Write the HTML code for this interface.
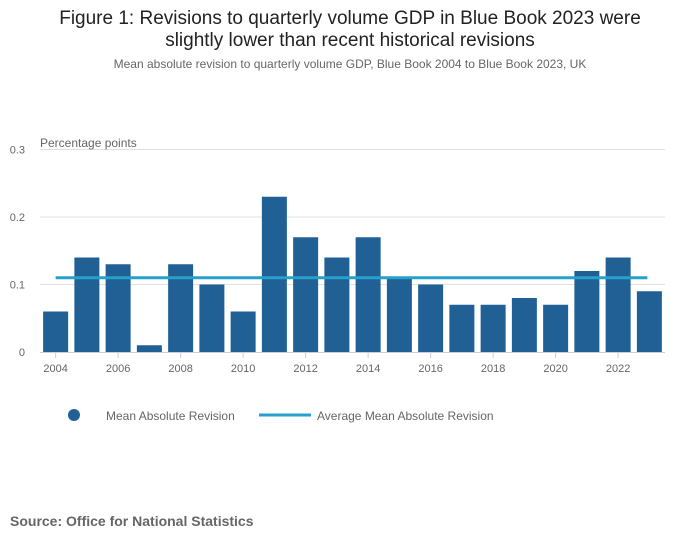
<!DOCTYPE html>
<html><head><meta charset="utf-8"><style>
body{margin:0;background:#fff;font-family:"Liberation Sans",sans-serif;}
#wrap{position:relative;width:700px;height:549px;overflow:hidden}
.t{position:absolute;left:0;width:700px;text-align:center;color:#222}
</style></head><body>
<div id="wrap">
<div class="t" style="top:8px;font-size:19px;line-height:22px">Figure 1: Revisions to quarterly volume GDP in Blue Book 2023 were<br>slightly lower than recent historical revisions</div>
<div class="t" style="top:57px;font-size:12px;color:#666">Mean absolute revision to quarterly volume GDP, Blue Book 2004 to Blue Book 2023, UK</div>
<svg id="svg" width="700" height="549" style="position:absolute;left:0;top:0"></svg>
<div style="position:absolute;left:10px;top:513px;font-size:14px;font-weight:bold;color:#666">Source: Office for National Statistics</div>
</div>
<script>
const years=[2004,2005,2006,2007,2008,2009,2010,2011,2012,2013,2014,2015,2016,2017,2018,2019,2020,2021,2022,2023];
const values=[0.06,0.14,0.13,0.01,0.13,0.10,0.06,0.23,0.17,0.14,0.17,0.11,0.10,0.07,0.07,0.08,0.07,0.12,0.14,0.09];
const average=[0.11];
const yTicks=[0,0.1,0.2,0.3];
const yTickLabels=["0","0.1","0.2","0.3"];
const xTickYears=[2004,2006,2008,2010,2012,2014,2016,2018,2020,2022];

const NS="http://www.w3.org/2000/svg";
const svg=document.getElementById('svg');
const L=40,R=665,Y0=352,Y1=149.5;
const band=(R-L)/years.length;
const x=i=>L+band*(i+0.5);
const y=v=>Y0-(Y0-Y1)*v/0.3;
function mk(tag,at,txt){const e=document.createElementNS(NS,tag);for(const k in at)e.setAttribute(k,at[k]);if(txt!=null)e.textContent=txt;svg.appendChild(e);return e;}

yTicks.forEach((t,i)=>{
  if(t>0){const g=mk('line',{x1:L,x2:R,y1:y(t),y2:y(t),stroke:'#e0e0e0','stroke-width':1});
  
  }
  const l=mk('text',{x:25,y:y(t)+4,'text-anchor':'end','font-size':11,fill:'#666','font-family':'Liberation Sans'},yTickLabels[i]);
  
  
});
const yt=mk('text',{x:40,y:147,'font-size':12,fill:'#666','font-family':'Liberation Sans'},'Percentage points');



values.forEach((v,i)=>{
  const b=mk('rect',{x:x(i)-12.5,y:y(v),width:25,height:Y0-y(v),fill:'#206095'});
  
  
});
const ax=mk('line',{x1:L,x2:R,y1:Y0+0.5,y2:Y0+0.5,stroke:'#ccd',"stroke-width":1});


xTickYears.forEach(yr=>{
  const i=years.indexOf(yr);
  const tk=mk('line',{x1:x(i),x2:x(i),y1:Y0,y2:Y0+6,stroke:'#ccd'});
  
  
  const l=mk('text',{x:x(i),y:Y0+20,'text-anchor':'middle','font-size':11,fill:'#666','font-family':'Liberation Sans'},String(yr));
  
  
});
const av=mk('line',{x1:x(0),x2:x(years.length-1)-2,y1:y(average[0]),y2:y(average[0]),stroke:'#27a0cc','stroke-width':3});



const c=mk('circle',{cx:74,cy:415,r:6,fill:'#206095'});


const t1=mk('text',{x:106,y:420,'font-size':12,fill:'#666','font-family':'Liberation Sans'},'Mean Absolute Revision');


const ll=mk('line',{x1:259,x2:311,y1:415,y2:415,stroke:'#27a0cc','stroke-width':3});


const t2=mk('text',{x:317,y:420,'font-size':12,fill:'#666','font-family':'Liberation Sans'},'Average Mean Absolute Revision');


</script>
</body></html>
